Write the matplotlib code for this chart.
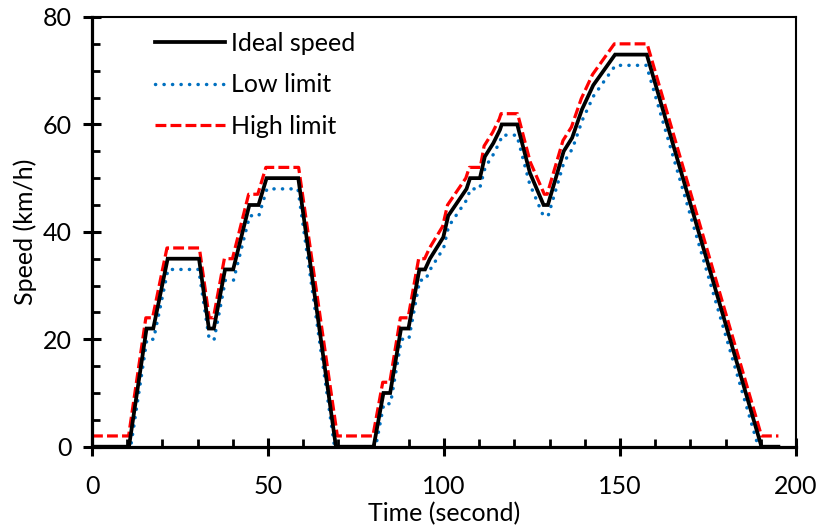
import matplotlib
matplotlib.use("Agg")
import matplotlib.pyplot as plt
from matplotlib.ticker import MultipleLocator

# Ideal speed profile (time in s, speed in km/h)
t_ideal = [0, 10.5, 15.5, 17.4, 21.5, 30.4, 33.2, 34.6, 37.8, 40.1, 44.7, 47.3,
           49.6, 58.6, 69.3, 80.0, 82.8, 84.7, 87.8, 89.9, 93.0, 94.6, 96.0,
           99.8, 101.2, 106.4, 107.4, 110.2, 111.6, 114.0, 115.9, 116.4, 120.8,
           124.4, 128.3, 129.5, 134.0, 136.4, 139.2, 142.4, 148.6, 157.6,
           190.2, 195.0]
v_ideal = [0, 0, 22, 22, 35, 35, 22, 22, 33, 33, 45, 45,
           50, 50, 0, 0, 10, 10, 22, 22, 33, 33, 35,
           39, 43, 48, 50, 50, 54, 56.5, 59, 60, 60,
           51, 45, 45, 55, 57.5, 62.8, 67.3, 73, 73,
           0, 0]

# Low limit
t_low = [0, 11.0, 15.6, 17.5, 21.6, 30.3, 33.3, 34.7, 37.9, 40.2, 44.8, 47.4,
         49.7, 58.5, 68.9, 80.6, 82.9, 84.8, 87.9, 90.0, 93.1, 94.7, 96.1,
         99.9, 101.3, 106.5, 107.5, 110.1, 111.7, 114.1, 116.0, 116.5, 120.7,
         124.3, 128.2, 129.6, 134.1, 136.5, 139.3, 142.5, 148.7, 157.5,
         189.3, 195.0]
v_low = [0, 0, 20, 20, 33, 33, 20, 20, 31, 31, 43, 43,
         48, 48, 0, 0, 8, 8, 20, 20, 31, 31, 33,
         37, 41, 46, 48, 48, 52, 54.5, 57, 58, 58,
         49, 43, 43, 53, 55.5, 60.8, 65.3, 71, 71,
         0, 0]

# High limit
t_high = [0, 10.4, 15.3, 17.2, 21.3, 30.5, 33.3, 34.5, 37.6, 39.9, 44.5, 47.1,
          49.4, 58.7, 69.7, 79.8, 82.6, 84.6, 87.6, 89.8, 92.8, 94.5, 95.9,
          99.6, 101.0, 106.2, 107.2, 110.3, 111.4, 113.8, 115.7, 116.2, 120.9,
          124.5, 128.5, 129.3, 133.8, 136.2, 139.0, 142.2, 148.4, 157.7,
          190.2, 195.0]
v_high = [2, 2, 24, 24, 37, 37, 24, 24, 35, 35, 47, 47,
          52, 52, 2, 2, 12, 12, 24, 24, 35, 35, 37,
          41, 45, 50, 52, 52, 56, 58.5, 61, 62, 62,
          53, 47, 47, 57, 59.5, 64.8, 69.3, 75, 75,
          2, 2]

labels = ["Ideal speed", "Low limit", "High limit"]
x_label = "Time (second)"
y_label = "Speed (km/h)"

plt.rcParams["font.family"] = ["Lato", "DejaVu Sans"]
FS = 18

fig = plt.figure(figsize=(8.21, 5.29), dpi=100)
ax = fig.add_axes([92 / 821, 1 - 446.7 / 529, (796 - 92) / 821, (446.7 - 17) / 529])

lw = 2.3
ax.plot(t_ideal, v_ideal, color="black", lw=lw + 0.4, solid_joinstyle="miter", label=labels[0], zorder=3)
ax.plot(t_low, v_low, color="#0070C0", lw=2.5, linestyle=(0, (0.05, 2.4)), dash_capstyle="round",
        label=labels[1], zorder=2)
ax.plot(t_high, v_high, color="#FF0000", lw=lw, linestyle=(0, (3.4, 1.3)), label=labels[2], zorder=2)

ax.set_xlim(0, 200)
ax.set_ylim(0, 80)
ax.xaxis.set_major_locator(MultipleLocator(50))
ax.xaxis.set_minor_locator(MultipleLocator(10))
ax.yaxis.set_major_locator(MultipleLocator(20))
ax.yaxis.set_minor_locator(MultipleLocator(5))

ax.tick_params(which="major", direction="inout", length=13, width=2.2, labelsize=FS)
ax.tick_params(which="minor", direction="in", length=6, width=2.0)
ax.tick_params(axis="x", which="major", pad=14)
ax.tick_params(axis="y", which="major", pad=8)
ax.tick_params(top=False, right=False, which="both")

for s in ["left", "bottom"]:
    ax.spines[s].set_linewidth(2.3)
for s in ["top", "right"]:
    ax.spines[s].set_linewidth(1.5)

ax.set_xlabel(x_label, fontsize=FS, labelpad=2.5)
ax.set_ylabel(y_label, fontsize=FS, labelpad=4)

leg = ax.legend(loc="upper left", bbox_to_anchor=(0.075, 0.988), frameon=False, fontsize=FS,
                handlelength=2.8, handletextpad=0.25, labelspacing=0.73, borderaxespad=0)

fig.savefig("out.png", dpi=100)
